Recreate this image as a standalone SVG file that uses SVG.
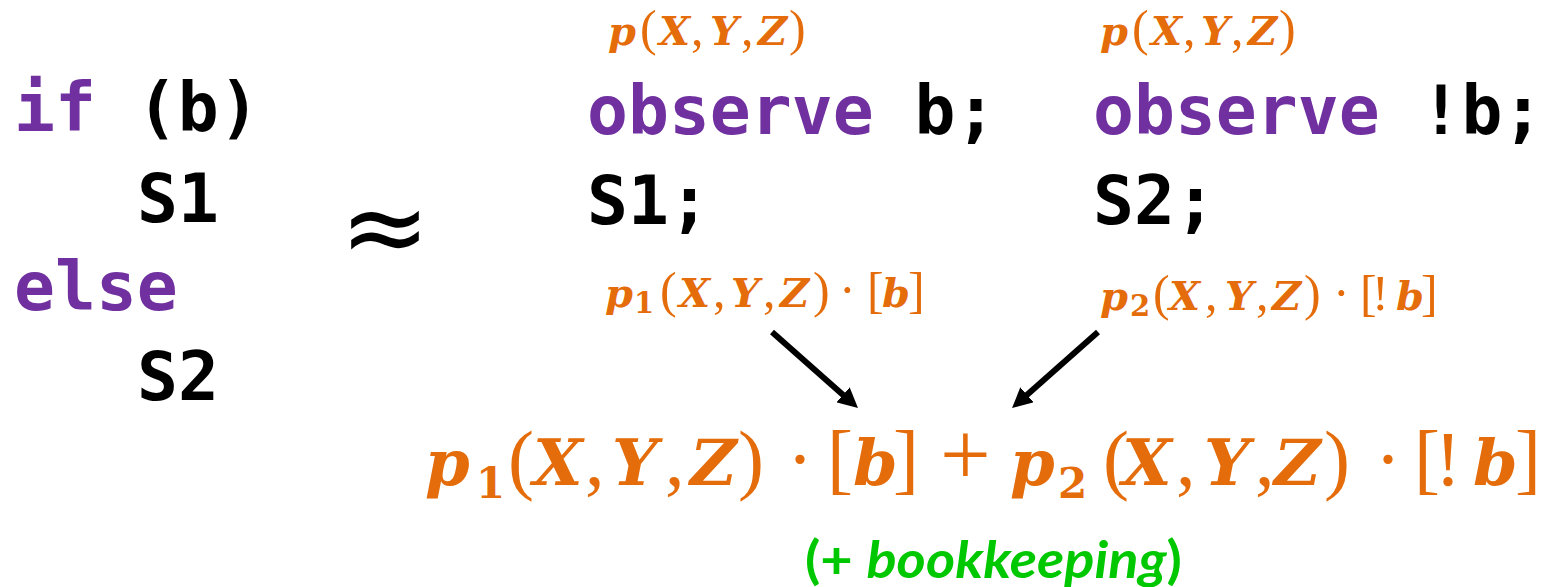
<svg xmlns="http://www.w3.org/2000/svg" width="1545" height="587" viewBox="0 0 1545 587">
<style>
.code{font-family:"DejaVu Sans Mono",monospace;font-weight:bold;font-size:68px;fill:#000}
.kw{fill:#7030A0}
.m{fill:#E46C0A}
.mi{font-family:"DejaVu Serif",serif;font-weight:bold;font-style:italic}
.mo{font-family:"Liberation Serif",serif;font-weight:normal;font-style:normal}
.sb{font-family:"DejaVu Serif",serif;font-weight:bold;font-style:normal}
.big .mi{font-size:64px}
.big .mo{font-size:78px}
.big .pl{font-size:90px}
.big .sb{font-size:42px}
.sm .mi{font-size:40px}
.sm .mo{font-size:50px}
.sm .sb{font-size:29px}
.approx{font-family:"DejaVu Sans",sans-serif;font-size:108px;fill:#000}
.green{font-family:Lato,"Liberation Sans",sans-serif;font-weight:bold;font-size:52px;fill:#00C800}
.conn line{stroke:#000;stroke-width:6}
</style>
<defs>
<marker id="ah" markerUnits="userSpaceOnUse" viewBox="0 0 20 20" markerWidth="20" markerHeight="20" refX="10" refY="10" orient="auto">
<path d="M0,0 L20,10 L0,20 z" fill="#000"/>
</marker>
</defs>

<g id="ifelse">
<text class="code" x="14" y="131"><tspan class="kw">if</tspan> (b)</text>
<text class="code" x="137" y="222">S1</text>
<text class="code" x="14" y="310"><tspan class="kw">else</tspan></text>
<text class="code" x="137" y="400">S2</text>
</g>

<g id="approx">
<text class="approx" x="385" y="264" text-anchor="middle">≈</text>
</g>

<g id="branch1">
<text class="m sm" y="45"><tspan class="mi" x="608">p</tspan><tspan class="mo" x="640">(</tspan><tspan class="mi" x="659">X</tspan><tspan class="mo" x="691">,</tspan><tspan class="mi" x="710">Y</tspan><tspan class="mo" x="741">,</tspan><tspan class="mi" x="758">Z</tspan><tspan class="mo" x="789">)</tspan></text>
<text class="code" x="587" y="134"><tspan class="kw">observe</tspan> b;</text>
<text class="code" x="587" y="224">S1;</text>
<text class="m sm" y="307"><tspan class="mi" x="605">p</tspan><tspan class="sb" x="634" y="313">1</tspan><tspan class="mo" x="660" y="307">(</tspan><tspan class="mi" x="679">X</tspan><tspan class="mo" x="713">,</tspan><tspan class="mi" x="731">Y</tspan><tspan class="mo" x="763">,</tspan><tspan class="mi" x="780">Z</tspan><tspan class="mo" x="813">)</tspan><tspan class="mo" x="839">·</tspan><tspan class="mo" x="867">[</tspan><tspan class="mi" x="882">b</tspan><tspan class="mo" x="908">]</tspan></text>
</g>

<g id="branch2">
<text class="m sm" y="45"><tspan class="mi" x="1100">p</tspan><tspan class="mo" x="1132">(</tspan><tspan class="mi" x="1151">X</tspan><tspan class="mo" x="1183">,</tspan><tspan class="mi" x="1201">Y</tspan><tspan class="mo" x="1231">,</tspan><tspan class="mi" x="1248">Z</tspan><tspan class="mo" x="1279">)</tspan></text>
<text class="code" x="1093" y="134"><tspan class="kw">observe</tspan> !b;</text>
<text class="code" x="1093" y="224">S2;</text>
<text class="m sm" y="310"><tspan class="mi" x="1100">p</tspan><tspan class="sb" x="1130" y="316">2</tspan><tspan class="mo" x="1153" y="310">(</tspan><tspan class="mi" x="1169">X</tspan><tspan class="mo" x="1205">,</tspan><tspan class="mi" x="1225">Y</tspan><tspan class="mo" x="1256">,</tspan><tspan class="mi" x="1272">Z</tspan><tspan class="mo" x="1304">)</tspan><tspan class="mo" x="1333">·</tspan><tspan class="mo" x="1360">[</tspan><tspan class="mo" x="1372">!</tspan><tspan class="mi" x="1396">b</tspan><tspan class="mo" x="1421">]</tspan></text>
</g>

<g id="result">
<text class="m big" y="485"><tspan class="mi" x="425">p</tspan><tspan class="sb" x="476" y="498">1</tspan><tspan class="mo" x="508" y="485">(</tspan><tspan class="mi" x="533">X</tspan><tspan class="mo" x="585">,</tspan><tspan class="mi" x="612">Y</tspan><tspan class="mo" x="665">,</tspan><tspan class="mi" x="690">Z</tspan><tspan class="mo" x="738">)</tspan><tspan class="mo" x="787">·</tspan><tspan class="mo" x="827">[</tspan><tspan class="mi" x="853">b</tspan><tspan class="mo" x="893">]</tspan><tspan class="mo pl" x="940">+</tspan><tspan class="mi" x="1010">p</tspan><tspan class="sb" x="1058" y="498">2</tspan><tspan class="mo" x="1103" y="485">(</tspan><tspan class="mi" x="1122">X</tspan><tspan class="mo" x="1176">,</tspan><tspan class="mi" x="1204">Y</tspan><tspan class="mo" x="1255">,</tspan><tspan class="mi" x="1274">Z</tspan><tspan class="mo" x="1324">)</tspan><tspan class="mo" x="1375">·</tspan><tspan class="mo" x="1414">[</tspan><tspan class="mo" x="1435">!</tspan><tspan class="mi" x="1473">b</tspan><tspan class="mo" x="1515">]</tspan></text>
<text class="green" x="805" y="578" textLength="377" lengthAdjust="spacingAndGlyphs">(+ <tspan font-style="italic">bookkeeping</tspan>)</text>
</g>

<g id="connectors" class="conn">
<line x1="772" y1="332" x2="850.5" y2="401.4" marker-end="url(#ah)"/>
<line x1="1098" y1="332" x2="1019.5" y2="401.4" marker-end="url(#ah)"/>
</g>
</svg>
